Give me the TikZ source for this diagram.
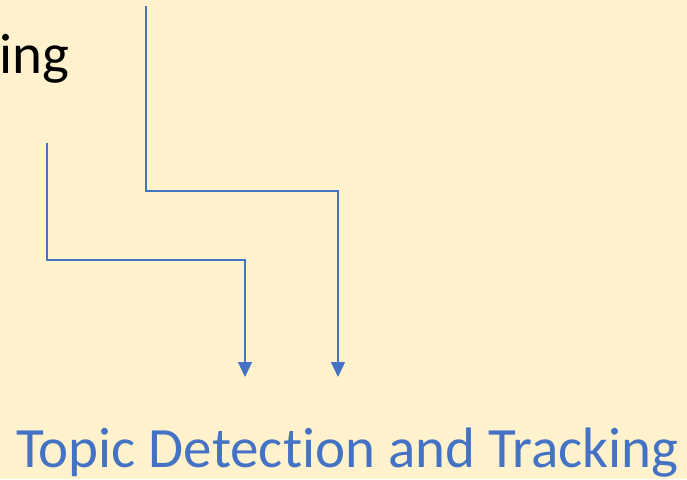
\documentclass[tikz,border=0pt]{standalone}
\usepackage{fontspec}
\setmainfont{Carlito}[Ligatures=NoCommon]
\usetikzlibrary{arrows.meta}
\definecolor{bgyellow}{HTML}{FFF2CC}
\definecolor{accblue}{HTML}{4472C4}
\tikzset{
  conn/.style={draw=accblue, line width=1.3pt, -{Triangle[length=15pt,width=14pt]}},
  bigtext/.style={inner sep=0pt, font=\fontsize{57}{59}\selectfont}
}
\begin{document}
\begin{tikzpicture}[x=1pt,y=-1pt]
\fill[bgyellow] (0,0) rectangle (687,479);
\useasboundingbox (0,0) rectangle (687,479);
\node[bigtext, anchor=base east, text=black] (ing) at (70,73) {ing};
\node[bigtext, anchor=base west, text=accblue] (tdt) at (16,467) {Topic Detection and Tracking};
\coordinate (s1) at (146,6);
\coordinate (e1) at (338,377);
\coordinate (s2) at (47,143);
\coordinate (e2) at (245,377);
\draw[conn] (s1) |- (e1 |- 0,191) -- (e1);
\draw[conn] (s2) |- (e2 |- 0,260) -- (e2);
\end{tikzpicture}
\end{document}
